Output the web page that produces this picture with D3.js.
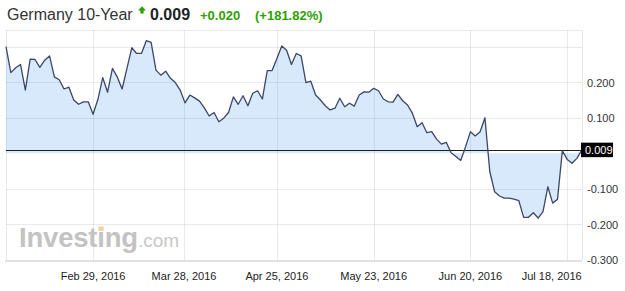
<!DOCTYPE html>
<html><head><meta charset="utf-8">
<script src="https://cdn.jsdelivr.net/npm/d3@7"></script>
<style>
html,body{margin:0;padding:0;background:#fff;}
svg{display:block;font-family:Arial,"Liberation Sans",sans-serif;}
</style>
</head><body>
<svg id="chart" width="625" height="291"></svg>
<script>
// ---- data ----
const title = "Germany 10-Year";
const lastValue = 0.009;
const changeText = "+0.020";
const changePctText = "(+181.82%)";
const startDate = "2016-02-03";
const endDate = "2016-07-21";
const holidays = ["2016-03-25", "2016-03-28"];
const values = [
  0.300, 0.227, 0.241, 0.250, 0.178, 0.265, 0.264, 0.242, 0.262, 0.274,
  0.215, 0.207, 0.181, 0.186, 0.150, 0.138, 0.145, 0.145, 0.110, 0.152,
  0.213, 0.172, 0.239, 0.215, 0.181, 0.239, 0.297, 0.281, 0.281, 0.317,
  0.312, 0.234, 0.220, 0.231, 0.211, 0.199, 0.178, 0.142, 0.164, 0.156,
  0.147, 0.128, 0.105, 0.115, 0.089, 0.099, 0.115, 0.159, 0.138, 0.162,
  0.134, 0.169, 0.176, 0.153, 0.233, 0.233, 0.267, 0.302, 0.290, 0.250,
  0.281, 0.274, 0.199, 0.203, 0.164, 0.150, 0.134, 0.122, 0.127, 0.155,
  0.131, 0.141, 0.133, 0.164, 0.173, 0.172, 0.183, 0.176, 0.153, 0.145,
  0.144, 0.166, 0.148, 0.136, 0.113, 0.075, 0.086, 0.058, 0.061, 0.040,
  0.026, 0.031, 0.002, -0.009, -0.020, 0.019, 0.061, 0.049, 0.061, 0.100,
  -0.051, -0.108, -0.120, -0.126, -0.126, -0.129, -0.133, -0.180, -0.180, -0.167,
  -0.182, -0.164, -0.094, -0.140, -0.129, 0.007, -0.017, -0.028, -0.014, 0.009
];
const xTickDates = ["2016-02-29", "2016-03-28", "2016-04-25", "2016-05-23", "2016-06-20", "2016-07-18"];
const xTickLabels = ["Feb 29, 2016", "Mar 28, 2016", "Apr 25, 2016", "May 23, 2016", "Jun 20, 2016", "Jul 18, 2016"];
const yTickValues = [0.2, 0.1, -0.1, -0.2, -0.3];
const yGridValues = [0.3, 0.2, 0.1, -0.1, -0.2];
const yDomain = [-0.3, 0.347];

// ---- layout ----
const plot = {left: 6, right: 581.7, top: 30, bottom: 260};
const svg = d3.select("#chart");
const parse = d3.utcParse("%Y-%m-%d");
const fmtDay = d3.utcFormat("%Y-%m-%d");

const days = d3.utcDay.range(parse(startDate), d3.utcDay.offset(parse(endDate), 1))
  .filter(d => d.getUTCDay() % 6 !== 0 && !holidays.includes(fmtDay(d)));
const n = values.length;
const dayIndex = d3.scaleUtc().domain(days.slice(0, n)).range(d3.range(Math.min(n, days.length)));

const x = d3.scaleLinear().domain([0, n - 1]).range([plot.left, plot.right]);
const y = d3.scaleLinear().domain(yDomain).range([plot.bottom, plot.top]);

const data = values.map((v, i) => ({i, v}));

// fill area
const area = d3.area().x(d => x(d.i)).y0(y(0)).y1(d => y(d.v));
svg.append("path").datum(data).attr("d", area).attr("fill", "#d8e9fc");

// grid lines (semi-transparent over fill)
const grid = svg.append("g").attr("shape-rendering", "crispEdges");
grid.selectAll(".hg").data(yGridValues).join("line")
  .attr("x1", plot.left).attr("x2", plot.right)
  .attr("y1", d => Math.round(y(d)) + 0.5).attr("y2", d => Math.round(y(d)) + 0.5)
  .attr("stroke", "rgba(40,50,90,0.10)");
// top border
grid.append("line").attr("x1", plot.left).attr("x2", plot.right)
  .attr("y1", plot.top + 0.5).attr("y2", plot.top + 0.5).attr("stroke", "rgba(40,50,90,0.10)");
// vertical grid at tick dates + borders
const tickX = xTickDates.map(s => x(dayIndex(parse(s))));
grid.selectAll(".vg").data(tickX.concat([plot.left, plot.right])).join("line")
  .attr("x1", d => Math.round(d) + 0.5).attr("x2", d => Math.round(d) + 0.5)
  .attr("y1", plot.top).attr("y2", plot.bottom)
  .attr("stroke", "rgba(40,50,90,0.10)");
// bottom border
grid.append("line").attr("x1", plot.left - 1).attr("x2", plot.right)
  .attr("y1", plot.bottom + 0.5).attr("y2", plot.bottom + 0.5)
  .attr("stroke", "#e1e2e8").attr("stroke-width", 2);

// current value line
const yLast = Math.round(y(lastValue)) + 0.5;
svg.append("line").attr("x1", plot.left).attr("x2", plot.right)
  .attr("y1", yLast).attr("y2", yLast)
  .attr("stroke", "#1e1e1e").attr("stroke-width", 1).attr("shape-rendering", "crispEdges");

// price line
const line = d3.line().x(d => x(d.i)).y(d => y(d.v));
svg.append("path").datum(data).attr("d", line)
  .attr("fill", "none").attr("stroke", "#3b4668").attr("stroke-width", 1.3)
  .attr("stroke-linejoin", "round");

// y axis labels
const yAxis = d3.axisRight(y).tickValues(yTickValues).tickSize(0).tickPadding(0)
  .tickFormat(d => d.toFixed(3));
const yg = svg.append("g").attr("transform", `translate(587,0)`).call(yAxis);
yg.select(".domain").remove();
yg.selectAll("text").attr("font-size", 11).attr("fill", "#333")
  .attr("font-family", "Arial, 'Liberation Sans', sans-serif").attr("dy", "0.35em");

// last value badge
svg.append("rect").attr("x", 581).attr("y", y(lastValue) - 7.5).attr("width", 32).attr("height", 14.5).attr("fill", "#000");
svg.append("text").attr("x", 585).attr("y", y(lastValue)).attr("dy", "0.36em")
  .attr("font-size", 11).attr("fill", "#fff").text(lastValue.toFixed(3));

// x axis labels
const xg = svg.append("g");
xg.selectAll("text").data(xTickLabels).join("text")
  .attr("x", (d, i) => tickX[i]).attr("y", 280)
  .attr("text-anchor", "middle").attr("font-size", 11).attr("fill", "#222")
  .text(d => d);
xg.selectAll("text").each(function() {
  const b = this.getBBox();
  if (b.x + b.width > plot.right) {
    d3.select(this).attr("x", +d3.select(this).attr("x") - (b.x + b.width - plot.right));
  }
});

// watermark
const wm = svg.append("text").attr("x", 19).attr("y", 247).attr("fill", "#c3c3c3");
wm.append("tspan").attr("font-size", 27.5).attr("font-weight", "bold").attr("letter-spacing", -0.2).text("Investing");
wm.append("tspan").attr("font-size", 19).attr("fill", "#c8c8c8").text(".com");
try {
  const ext = wm.node().getExtentOfChar(6);
  svg.append("rect").attr("x", ext.x + ext.width / 2 - 2.6).attr("y", 226.5)
    .attr("width", 5.2).attr("height", 4.5).attr("fill", "#f6d29c");
} catch (e) {}

// title
const t = svg.append("g");
t.append("text").attr("x", 7).attr("y", 19.5).attr("font-size", 16).attr("fill", "#333").text(title);
t.append("path").attr("d", "M142 6.3 L146 10.6 L143.6 10.6 L143.6 13.4 L140.4 13.4 L140.4 10.6 L138 10.6 Z").attr("fill", "#2fa000");
t.append("text").attr("x", 150).attr("y", 19.5).attr("font-size", 16).attr("font-weight", "bold").attr("fill", "#222").text(lastValue.toFixed(3));
t.append("text").attr("x", 200).attr("y", 19.5).attr("font-size", 13).attr("font-weight", "bold").attr("fill", "#2fa000").text(changeText);
t.append("text").attr("x", 255).attr("y", 19.5).attr("font-size", 13).attr("font-weight", "bold").attr("fill", "#2fa000").text(changePctText);
</script>
</body></html>
